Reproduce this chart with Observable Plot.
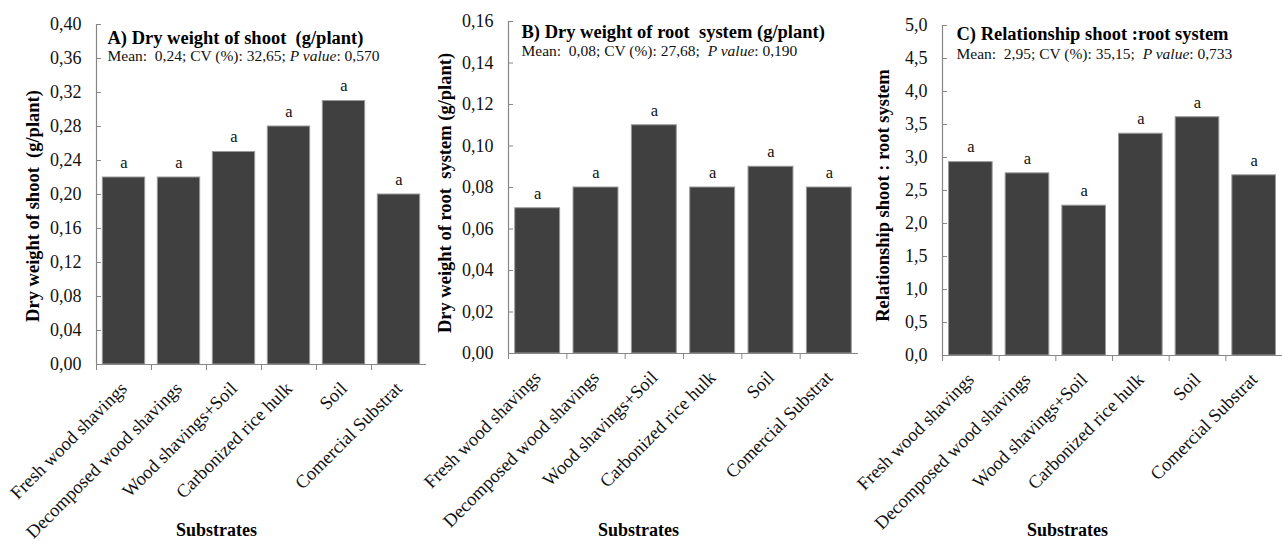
<!DOCTYPE html>
<html>
<head>
<meta charset="utf-8">
<script src="https://cdn.jsdelivr.net/npm/d3@7"></script>
<script src="https://cdn.jsdelivr.net/npm/@observablehq/plot@0.6"></script>
<style>
  html, body { margin: 0; padding: 0; background: #fff; }
  body { width: 1282px; height: 544px; position: relative; overflow: hidden; font-family: 'Liberation Serif', serif; }
  .panel { position: absolute; top: 0; }
  .panel svg, .panel svg text { font-family: 'Liberation Serif', serif !important; }
</style>
</head>
<body>
<script>
// ---------- data ----------
const substrates = [
  "Fresh wood shavings",
  "Decomposed wood shavings",
  "Wood shavings+Soil",
  "Carbonized rice hulk",
  "Soil",
  "Comercial Substrat"
];
const shootDryWeight = [0.22, 0.22, 0.25, 0.28, 0.31, 0.20];
const rootDryWeight  = [0.07, 0.08, 0.11, 0.08, 0.09, 0.08];
const shootRootRatio = [2.93, 2.76, 2.27, 3.36, 3.61, 2.73];
const lettersA = ["a", "a", "a", "a", "a", "a"];
const lettersB = ["a", "a", "a", "a", "a", "a"];
const lettersC = ["a", "a", "a", "a", "a", "a"];

const yTicksA = [0, 0.04, 0.08, 0.12, 0.16, 0.20, 0.24, 0.28, 0.32, 0.36, 0.40];
const yTicksB = [0, 0.02, 0.04, 0.06, 0.08, 0.10, 0.12, 0.14, 0.16];
const yTicksC = [0, 0.5, 1.0, 1.5, 2.0, 2.5, 3.0, 3.5, 4.0, 4.5, 5.0];

const titleA = "A) Dry weight of shoot  (g/plant)";
const titleB = "B) Dry weight of root  system (g/plant)";
const titleC = "C) Relationship shoot :root system";
const subtitleA = "Mean:  0,24; CV (%): 32,65; P value: 0,570";
const subtitleB = "Mean:  0,08; CV (%): 27,68;  P value: 0,190";
const subtitleC = "Mean:  2,95; CV (%): 35,15;  P value: 0,733";
const yTitleA = "Dry weight of shoot  (g/plant)";
const yTitleB = "Dry weight of root  system (g/plant)";
const yTitleC = "Relationship shoot : root system";
const xTitle = "Substrates";

// ---------- layout / style ----------
const FONT = "Liberation Serif";
const AXIS = "#878787";
const BAR = "#404040";
const H = 544;

const panels = [
  {values: shootDryWeight, letters: lettersA, ticks: yTicksA, decimals: 2,
   title: titleA, subtitle: subtitleA, yTitle: yTitleA,
   left: 0, width: 428, mL: 96, mR: 2, mT: 24, mB: 180,
   tdx: 11, tdy: 14, sdy: 32, ydx: -63.5, ydy: 11.5},
  {values: rootDryWeight, letters: lettersB, ticks: yTicksB, decimals: 2,
   title: titleB, subtitle: subtitleB, yTitle: yTitleB,
   left: 428, width: 432, mL: 80, mR: 2, mT: 21, mB: 191,
   tdx: 13, tdy: 11, sdy: 30, ydx: -63, ydy: 5.5},
  {values: shootRootRatio, letters: lettersC, ticks: yTicksC, decimals: 1,
   title: titleC, subtitle: subtitleC, yTitle: yTitleC,
   left: 860, width: 422, mL: 82, mR: 0, mT: 25, mB: 189,
   tdx: 14, tdy: 9, sdy: 28.5, ydx: -59, ydy: 5}
];

function fmt(dec) { return d => d.toFixed(dec).replace(".", ","); }

for (const p of panels) {
  const rows = substrates.map((s, i) => ({substrate: s, value: p.values[i], letter: p.letters[i]}));
  const step = (p.width - p.mL - p.mR) / substrates.length;
  const frameBottom = H - p.mB;

  const chart = Plot.plot({
    width: p.width,
    height: H,
    marginLeft: p.mL,
    marginRight: p.mR,
    marginTop: p.mT,
    marginBottom: p.mB,
    style: {fontFamily: FONT, fontSize: "16px", color: "#000", background: "transparent", overflow: "visible"},
    x: {type: "band", domain: substrates, paddingInner: 0.23, paddingOuter: 0.115, round: false},
    y: {domain: [p.ticks[0], p.ticks[p.ticks.length - 1]]},
    marks: [
      Plot.barY(rows, {x: "substrate", y: "value", fill: BAR, stroke: "#9a9a9a", strokeWidth: 1}),
      // axis lines
      Plot.ruleY([p.ticks[0]], {stroke: AXIS, strokeWidth: 1.2}),
      Plot.ruleX([substrates[0]], {dx: -step / 2, stroke: AXIS, strokeWidth: 1.2}),
      // y ticks (inward) and labels
      Plot.axisY({ticks: p.ticks, tickSize: 5, dx: 5, tickFormat: () => "", label: null, stroke: AXIS}),
      Plot.axisY({ticks: p.ticks, tickSize: 0, tickPadding: 15, tickFormat: fmt(p.decimals), label: null,
                  fontSize: 18, fontFamily: FONT, fill: "#111"}),
      // x ticks at band boundaries and rotated labels
      Plot.axisX({tickSize: 6, dx: -step / 2, tickFormat: () => "", label: null, stroke: AXIS}),
      Plot.axisX({tickSize: 0, tickPadding: 21, tickRotate: -45, label: null, fontSize: 18.5,
                  fontFamily: FONT, fill: "#111"}),
      // significance letters
      Plot.text(rows, {x: "substrate", y: "value", text: "letter", dy: -15, lineAnchor: "middle",
                       fontSize: 16.5, fontFamily: FONT, fill: "#111"}),
      // titles
      Plot.text([p.title], {frameAnchor: "top-left", textAnchor: "start", lineAnchor: "middle",
                            dx: p.tdx, dy: p.tdy, fontWeight: "bold", fontSize: 18.5, fontFamily: FONT, fill: "#000"}),
      Plot.text([p.subtitle], {frameAnchor: "top-left", textAnchor: "start", lineAnchor: "middle",
                               dx: p.tdx, dy: p.sdy, fontSize: 15.5, fontFamily: FONT, fill: "#111"}),
      Plot.text([p.yTitle], {frameAnchor: "left", textAnchor: "middle", lineAnchor: "middle", rotate: -90,
                             dx: p.ydx, dy: p.ydy, fontWeight: "bold", fontSize: 18.5, fontFamily: FONT, fill: "#000"}),
      Plot.text([xTitle], {frameAnchor: "bottom", textAnchor: "middle", lineAnchor: "middle",
                           dx: -45, dy: 530 - frameBottom, fontWeight: "bold", fontSize: 18, fontFamily: FONT, fill: "#000"})
    ]
  });

  // italic "P value"
  chart.querySelectorAll("text").forEach(t => {
    const s = t.textContent;
    if (s.includes("P value") && !t.querySelector("tspan")) {
      const [a, b] = s.split("P value");
      t.textContent = "";
      const ns = "http://www.w3.org/2000/svg";
      [[a, "normal"], ["P value", "italic"], [b, "normal"]].forEach(([txt, st]) => {
        const ts = document.createElementNS(ns, "tspan");
        ts.textContent = txt;
        ts.setAttribute("font-style", st);
        t.appendChild(ts);
      });
    }
  });

  const div = document.createElement("div");
  div.className = "panel";
  div.style.left = p.left + "px";
  div.appendChild(chart);
  document.body.appendChild(div);
}
</script>
</body>
</html>
